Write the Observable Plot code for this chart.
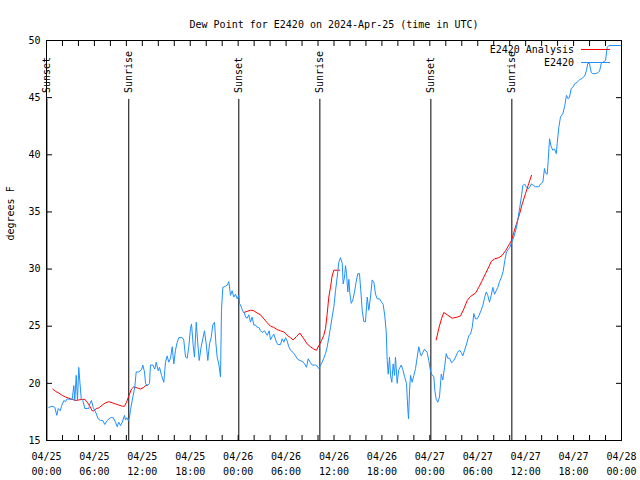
<!DOCTYPE html>
<html><head><meta charset="utf-8">
<script src="https://cdn.jsdelivr.net/npm/d3@7"></script>
<script src="https://cdn.jsdelivr.net/npm/@observablehq/plot@0.6"></script>
<style>body{margin:0;background:#fff}svg{display:block}</style>
</head><body><div id="chart"></div>
<script>
const startTime = "2024-04-25T00:00:00Z";
const endTime = "2024-04-28T00:00:00Z";
const titleText = "Dew Point for E2420 on 2024-Apr-25 (time in UTC)";
const yLabel = "degrees F";
const seriesNames = ["E2420 Analysis", "E2420"];
const seriesColors = ["#ff0000", "#1e90ff"];
const yDomain = [15, 50];
const yTicks = [15, 20, 25, 30, 35, 40, 45, 50];
const sunLabels = ["Sunset", "Sunrise", "Sunset", "Sunrise", "Sunset", "Sunrise"];
const sunHours = [0.05, 10.3, 24.08, 34.23, 48.13, 58.27];

// E2420 observations: hours since start, dew point (F)
const obsHours = [0.29,0.71,1.04,1.29,1.47,1.72,1.88,2.17,2.38,2.59,2.88,3.22,3.42,3.54,3.72,3.88,4.04,4.17,4.35,4.55,4.80,5.10,5.30,5.42,5.63,5.85,6.14,6.47,6.76,7.05,7.30,7.60,8.01,8.35,8.64,8.85,9.05,9.27,9.48,9.77,9.89,10.06,10.23,10.39,10.52,10.81,11.06,11.23,11.56,11.90,12.06,12.27,12.40,12.61,12.90,13.02,13.31,13.56,13.74,13.99,14.15,14.40,14.69,14.90,15.11,15.31,15.53,15.74,15.94,16.15,16.37,16.57,16.99,17.19,17.41,17.62,17.82,18.03,18.16,18.37,18.53,18.75,18.95,19.12,19.37,19.57,19.78,20.00,20.20,20.41,20.62,20.82,21.04,21.20,21.37,21.58,21.79,21.91,22.08,22.41,22.63,22.83,23.04,23.25,23.45,23.67,23.88,24.08,24.17,24.38,24.58,24.77,24.92,25.13,25.33,25.54,25.75,25.96,26.17,26.38,26.58,26.80,27.01,27.30,27.64,27.89,28.05,28.26,28.46,28.80,28.97,29.30,29.51,29.72,29.93,30.14,30.34,30.55,30.89,31.18,31.47,31.72,32.09,32.31,32.56,32.77,33.06,33.27,33.68,33.90,34.10,34.31,34.52,34.72,34.94,35.15,35.35,35.56,35.77,35.98,36.19,36.40,36.60,36.81,37.03,37.15,37.32,37.44,37.57,37.73,37.86,37.98,38.16,38.36,38.57,38.78,38.98,39.19,39.36,39.53,39.73,39.94,40.16,40.36,40.57,40.78,40.99,41.20,41.41,41.70,41.95,42.16,42.36,42.54,42.66,42.79,42.95,43.08,43.24,43.41,43.58,43.70,43.91,44.11,44.42,44.62,44.83,45.08,45.24,45.33,45.46,45.58,45.79,46.00,46.21,46.42,46.62,46.77,46.92,47.12,47.33,47.67,47.87,48.08,48.29,48.50,48.62,48.80,49.00,49.21,49.43,49.63,49.84,50.05,50.25,50.47,50.72,51.01,51.22,51.47,51.72,51.93,52.13,52.35,52.60,52.89,53.09,53.31,53.51,53.72,53.93,54.13,54.43,54.63,54.88,55.06,55.26,55.47,55.69,55.89,56.10,56.31,56.51,56.73,56.97,57.18,57.39,57.60,57.81,58.01,58.22,58.43,58.64,58.85,59.06,59.26,59.48,59.64,59.85,60.06,60.32,60.52,60.73,61.02,61.23,61.65,61.86,62.15,62.36,62.48,62.70,62.82,62.99,63.20,63.40,63.61,63.83,63.95,64.15,64.36,64.65,64.90,65.11,65.33,65.49,65.70,65.91,66.12,66.45,66.74,67.08,67.40,67.62,67.78,67.99,68.21,68.41,68.83,69.25,69.46,70.00,70.21,70.41,71.87];
const obsValues = [17.9,18.0,17.9,17.2,17.8,17.6,18.0,18.5,18.4,18.65,18.6,18.6,19.8,18.5,20.7,18.5,21.4,20.2,18.65,18.5,17.8,17.8,17.8,18.2,18.5,17.9,17.5,16.9,16.75,16.75,16.4,16.75,17.0,17.0,16.6,16.2,16.6,16.3,16.6,17.2,16.8,17.0,16.75,17.0,17.7,18.8,19.7,21.0,21.0,21.2,21.6,21.0,20.0,19.8,20.0,21.6,21.6,21.25,21.85,21.1,21.4,20.7,20.1,21.85,22.4,21.85,22.2,23.2,21.7,22.9,23.6,24.0,24.0,23.8,22.3,22.2,23.2,24.8,25.2,23.3,22.3,25.35,23.45,22.0,23.2,23.9,24.6,23.45,22.0,23.45,24.0,25.1,25.35,23.6,22.3,21.7,20.55,26.4,28.4,28.5,28.6,28.9,27.7,28.1,27.55,27.8,27.4,27.7,27.0,26.7,26.3,26.2,25.8,25.7,26.0,25.35,25.8,25.1,25.1,24.9,24.9,24.6,24.45,24.6,24.2,24.6,23.8,24.1,24.3,23.6,23.4,23.4,23.9,23.6,24.0,23.7,23.2,22.9,22.7,22.4,22.1,22.0,21.9,21.7,21.4,22.15,21.8,21.6,21.6,21.5,21.3,21.6,21.85,22.2,22.6,23.2,24.0,24.9,25.8,26.7,28.1,29.3,30.6,31.0,30.5,28.7,29.3,30.3,29.6,28.0,29.1,27.9,27.0,27.3,28.0,28.9,29.6,29.6,28.1,26.4,25.4,25.4,27.55,26.4,27.55,29.05,28.85,27.8,27.4,27.4,27.1,26.9,25.9,24.5,22.0,20.8,22.3,20.7,20.1,21.7,20.7,22.3,20.0,21.2,21.6,21.2,20.6,20.0,17.8,16.9,19.4,20.7,20.1,20.7,21.3,22.3,23.2,22.7,22.4,22.7,23.0,22.7,22.0,21.1,20.7,20.6,19.4,18.6,18.35,18.8,20.8,20.3,21.4,22.6,22.2,22.2,21.8,22.0,22.3,22.7,22.9,22.7,22.4,22.9,23.45,24.2,24.3,24.9,26.1,25.65,25.65,25.9,26.4,26.8,27.55,28.0,27.7,27.1,27.7,28.4,27.8,28.1,28.4,28.9,29.3,29.8,30.75,31.5,31.7,31.9,32.3,32.65,33.1,33.65,34.5,35.4,36.4,37.3,37.45,37.2,37.0,37.2,37.45,37.3,37.2,37.2,37.45,37.6,38.8,38.4,38.3,39.5,41.4,40.7,40.4,40.5,40.1,41.0,42.4,43.3,43.6,44.3,45.2,44.9,45.05,45.8,45.9,46.2,46.35,46.55,46.7,46.9,47.4,48.0,48.0,47.2,47.1,47.1,47.3,48.0,48.25,49.4,49.56,49.56];

// E2420 Analysis: hours since start, dew point (F); null marks a gap
const anaHours = [0.79,1.13,1.54,1.97,2.38,2.79,3.22,3.63,4.04,4.47,4.80,5.10,5.42,5.72,5.97,6.22,6.55,6.97,7.39,7.80,8.23,8.64,9.05,9.48,9.77,10.02,10.31,10.64,10.93,11.36,11.77,12.18,12.40,12.65,null,24.71,25.13,25.54,25.96,26.38,26.80,27.21,27.64,28.05,28.46,28.89,29.30,29.72,30.14,30.55,30.89,31.30,31.72,32.22,32.64,33.06,33.47,33.81,34.10,34.44,34.72,34.94,35.15,35.35,35.56,35.77,35.98,36.40,36.73,null,48.80,49.12,49.46,49.75,50.17,50.80,51.43,51.84,52.25,52.68,53.09,53.72,54.13,54.56,54.97,55.39,55.72,56.14,56.64,57.06,57.48,57.89,58.22,58.51,58.85,59.23,59.57,59.98,60.39,60.73];
const anaValues = [19.5,19.3,19.15,18.95,18.8,18.7,18.6,18.5,18.55,18.6,18.6,18.35,18.0,17.6,17.6,17.8,17.85,18.1,18.3,18.4,18.3,18.2,18.1,18.0,18.0,18.35,18.9,19.5,19.7,19.6,19.5,19.65,19.8,19.85,null,26.2,26.3,26.4,26.35,26.15,26.0,25.65,25.3,25.0,24.9,24.7,24.6,24.5,24.2,24.0,23.8,24.1,24.4,23.9,23.45,23.2,23.0,22.9,23.3,23.75,24.2,24.8,26.1,27.55,28.4,29.4,29.9,29.9,29.9,null,23.8,24.8,25.65,26.2,26.0,25.7,25.8,25.9,26.5,27.25,27.6,27.9,28.4,29.0,29.6,30.2,30.7,30.9,31.0,31.2,31.6,32.1,32.5,33.2,33.95,34.8,35.7,36.6,37.5,38.2];

const FONT = "'DejaVu Sans Mono', monospace";
const t0 = new Date(startTime).getTime();
const toDate = h => (h == null ? null : new Date(t0 + h * 3600e3));
const obs = obsHours.map((h, i) => ({t: toDate(h), v: obsValues[i]}));
const ana = anaHours.map((h, i) => ({t: toDate(h), v: anaValues[i]}));
const sun = sunHours.map((h, i) => ({t: toDate(h), label: sunLabels[i]}));
const sunLineTop = 44.85, sunLabelBase = 45.4;
const fmt = d3.utcFormat("%m/%d\n%H:%M");

const W = 640, H = 480, mL = 46, mR = 19, mT = 40, mB = 40;

const chart = Plot.plot({
  width: W, height: H,
  marginLeft: mL, marginRight: mR, marginTop: mT, marginBottom: mB,
  style: {fontFamily: FONT, fontSize: "10px", color: "black", background: "white"},
  x: {type: "utc", domain: [new Date(startTime), new Date(endTime)], label: null},
  y: {domain: yDomain, label: null},
  marks: [
    Plot.axisX({anchor: "bottom", ticks: d3.utcHour.every(6), tickSize: 0, tickPadding: 9, tickFormat: fmt, lineHeight: 1.5, fontSize: 10, label: null}),
    Plot.axisX({anchor: "bottom", ticks: d3.utcHour.every(2), tickSize: -5, tickFormat: () => "", label: null}),
    Plot.axisX({anchor: "top", ticks: d3.utcHour.every(2), tickSize: -5, tickFormat: () => "", label: null}),
    Plot.axisY({anchor: "left", ticks: yTicks, tickSize: 0, tickPadding: 6, fontSize: 10, label: null}),
    Plot.axisY({anchor: "left", ticks: yTicks, tickSize: -6, tickFormat: () => "", label: null}),
    Plot.axisY({anchor: "right", ticks: yTicks, tickSize: -6, tickFormat: () => "", label: null}),
    Plot.ruleX(sun, {x: "t", y1: yDomain[0], y2: sunLineTop, stroke: "black", strokeWidth: 1}),
    Plot.text(sun, {x: "t", y: sunLabelBase, text: "label", rotate: -90, textAnchor: "start", fontSize: 10, fill: "black"}),
    Plot.line(ana, {x: "t", y: "v", stroke: seriesColors[0], strokeWidth: 1}),
    Plot.line(obs, {x: "t", y: "v", stroke: seriesColors[1], strokeWidth: 1}),
    Plot.frame({stroke: "black"}),
    Plot.text([titleText], {frameAnchor: "top", dy: -20, fontSize: 10, fill: "black"}),
    Plot.text([yLabel], {frameAnchor: "left", dx: -36, rotate: -90, fontSize: 10, fill: "black"})
  ]
});

// legend inside the top-right corner of the frame
const svg = d3.select(chart);
const right = W - mR;
const lg = svg.append("g").attr("font-family", FONT).attr("font-size", 10);
seriesNames.forEach((name, i) => {
  const yy = mT + 9.5 + i * 13;
  lg.append("text").attr("x", right - 47).attr("y", yy).attr("dy", "0.32em")
    .attr("text-anchor", "end").attr("fill", "black").text(name);
  lg.append("line").attr("x1", right - 40).attr("x2", right - 11)
    .attr("y1", yy).attr("y2", yy).attr("stroke", seriesColors[i]).attr("stroke-width", 1);
});

document.getElementById("chart").appendChild(chart);
</script>
</body></html>
